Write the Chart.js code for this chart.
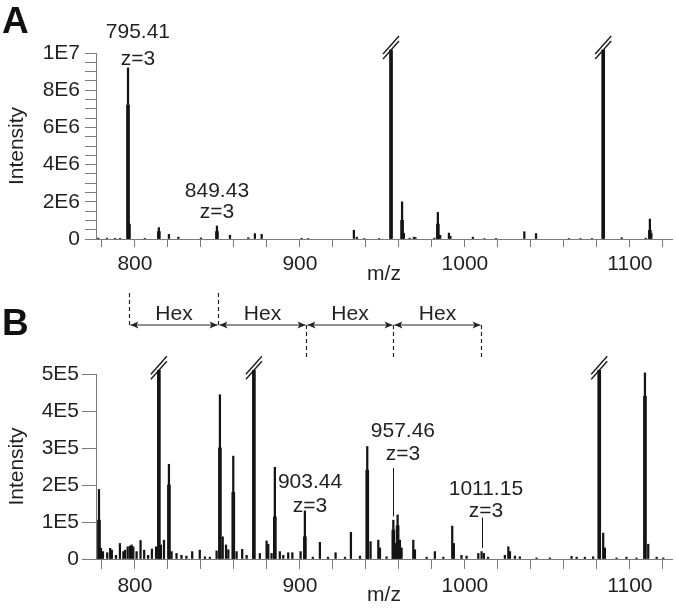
<!DOCTYPE html>
<html>
<head>
<meta charset="utf-8">
<script src="https://cdn.jsdelivr.net/npm/chart.js@4.4.1/dist/chart.umd.min.js"></script>
<style>
  body { margin: 0; background: #fff; }
  #wrap { position: relative; width: 676px; height: 610px; }
  canvas { position: absolute; left: 0; }
</style>
</head>
<body>
<div id="wrap">
  <canvas id="chartA" width="676" height="300" style="top:0"></canvas>
  <canvas id="chartB" width="676" height="330" style="top:280px"></canvas>
</div>
<script>
// ---------- panel A ----------
const mzA = [777.8, 783, 788, 791, 795.8, 796.8, 806, 814.5, 820.6, 826.3, 840, 849.7, 857.6, 868.7,
  872.7, 876.8, 901, 905, 932.7, 934.5, 939, 948, 955.2, 961.9, 963, 966.5, 969, 970, 981.5, 983.6,
  985, 990.3, 991.2, 1004.8, 1011.8, 1018.8, 1036.0, 1043.1, 1063, 1070, 1077, 1083.8, 1095, 1109.6,
  1112.1, 1113];
const intA = [5e4, 5e4, 4e4, 4e4, 9.2e6, 8e5, 4e4, 6.1e5, 2.5e5, 1e5, 6e4, 7e5, 2e5, 7e4,
  2.9e5, 2.5e5, 4e4, 3e4, 4.7e5, 1e5, 3e4, 3e4, 1.016e7, 2e6, 3e5, 5e4, 1e5, 8e4, 5e4, 1.43e6,
  2e5, 3.2e5, 1.5e5, 1e5, 3e4, 2e4, 3.9e5, 2.9e5, 3e4, 3e4, 3e4, 1.016e7, 7e4, 5e4,
  1.07e6, 3e5];
const bodyMzA = [795.8, 814.5, 849.7, 955.2, 961.9, 983.6, 1083.8, 1112.1];
const bodyIntA = [7.2e6, 4e5, 4e5, 1.016e7, 1e6, 8e5, 1.016e7, 4.7e5];
const brokenA = [955.2, 1083.8];
const yTicksA = [0, 5e5, 1e6, 1.5e6, 2e6, 2.5e6, 3e6, 3.5e6, 4e6, 4.5e6, 5e6, 5.5e6, 6e6, 6.5e6,
  7e6, 7.5e6, 8e6, 8.5e6, 9e6, 9.5e6, 1e7];
const yLabelsA = ['0', '', '', '', '2E6', '', '', '', '4E6', '', '', '', '6E6', '', '', '', '8E6',
  '', '', '', '1E7'];

// ---------- panel B ----------
const mzB = [778.2, 779.4, 780.6, 783.2, 785.0, 786.0, 788.5, 790.9, 793.0, 794.0, 795.6, 797.0,
  798.0, 799.0, 801.0, 803.4, 805.6, 808.0, 810.3, 812.8, 814.5, 815.7, 817.6, 820.6, 822.2, 825.2,
  828.2, 831.2, 834.7, 839.3, 842.4, 845.4, 849.5, 851.5, 853.2, 855.2, 856.6, 859.6, 861.6, 865.0,
  867.7, 872.1, 875.7, 879.8, 880.8, 882.8, 884.8, 887.8, 889.9, 892.9, 895.4, 900.4, 903.0, 907.8,
  912.1, 917.0, 921.6, 927.3, 930.9, 936.4, 940.8, 942.8, 947.5, 948.5, 952.5, 956.6, 957.6, 959.2,
  960.6, 961.6, 968.7, 969.7, 976.8, 981.8, 986.9, 992.3, 993.3, 997.9, 1001.0, 1008.1, 1010.1,
  1011.5, 1014.0, 1024.2, 1026.3, 1027.3, 1030.3, 1033.3, 1043.4, 1051.5, 1064.6, 1067.7, 1072.7,
  1077.7, 1081.4, 1083.8, 1084.8, 1091.9, 1097.9, 1104.0, 1109.1, 1111.1, 1116.2, 1120.2];
const intB = [1.88e5, 0.29e5, 0.2e5, 0.17e5, 0.29e5, 0.24e5, 0.1e5, 0.42e5, 0.2e5, 0.24e5, 0.33e5, 0.35e5,
  0.38e5, 0.33e5, 0.2e5, 0.5e5, 0.24e5, 0.1e5, 0.27e5, 0.33e5, 5.1e5, 0.38e5, 0.51e5, 2.56e5, 0.2e5, 0.15e5,
  0.1e5, 0.08e5, 0.2e5, 0.24e5, 0.06e5, 0.05e5, 0.22e5, 4.44e5, 0.6e5, 0.38e5, 0.25e5, 2.78e5, 0.2e5, 0.26e5,
  0.1e5, 5.1e5, 0.15e5, 0.49e5, 0.4e5, 0.15e5, 2.48e5, 0.2e5, 0.1e5, 0.17e5, 0.17e5, 0.2e5, 1.3e5, 0.05e5,
  0.45e5, 0.05e5, 0.17e5, 0.05e5, 0.72e5, 0.08e5, 3.04e5, 0.47e5, 0.51e5, 0.3e5, 0.06e5, 1.05e5, 0.42e5, 1.19e5,
  0.51e5, 0.3e5, 0.51e5, 0.25e5, 0.05e5, 0.2e5, 0.05e5, 0.89e5, 0.42e5, 0.1e5, 0.08e5, 0.15e5, 0.2e5,
  0.15e5, 0.05e5, 0.1e5, 0.33e5, 0.2e5, 0.08e5, 0.06e5, 0.03e5, 0.03e5, 0.07e5, 0.05e5, 0.05e5,
  0.06e5, 5.1e5, 0.7e5, 0.3e5, 0.03e5, 0.05e5, 0.03e5, 5.03e5, 0.4e5, 0.05e5, 0.03e5];
const bodyMzB = [778.2, 814.5, 820.6, 851.5, 859.6, 872.1, 884.8, 903.0, 940.8, 956.6, 959.2, 1081.4, 1109.1];
const bodyIntB = [1.05e5, 5.1e5, 2.0e5, 3.0e5, 1.8e5, 5.1e5, 1.14e5, 0.6e5, 2.4e5, 0.78e5, 0.9e5, 5.1e5, 4.4e5];
const brokenB = [814.5, 872.1, 1081.4];
const yTicksB = [0, 1e5, 2e5, 3e5, 4e5, 5e5];
const yLabelsB = ['0', '1E5', '2E5', '3E5', '4E5', '5E5'];
const hexMz = [796.4, 850.5, 903.6, 956.4, 1009.7];

// ---------- shared x axis ----------
const xTicks = [780, 800, 820, 840, 860, 880, 900, 920, 940, 960, 980, 1000, 1020, 1040, 1060, 1080, 1100, 1120];
const xLabels = ['', '800', '', '', '', '', '900', '', '', '', '', '1000', '', '', '', '', '1100', ''];

const FONT = "'Liberation Sans', Arial, Helvetica, sans-serif";
const INK = '#141414';
const TXT = '#231f20';
const AXIS = '#7a7a7a';
Chart.defaults.font.family = FONT;
Chart.defaults.font.size = 21;
Chart.defaults.color = TXT;

// peak labels (positions in data units)
const labelsA = [
  { lines: ['795.41', 'z=3'], mz: 801.8, at: 9.35e6, gap: 27 },
  { lines: ['849.43', 'z=3'], mz: 849.7, at: 1.13e6, gap: 21 }
];
const labelsB = [
  { lines: ['903.44', 'z=3'], mz: 906.1, at: 1.27e5, gap: 24 },
  { lines: ['957.46', 'z=3'], mz: 962.4, at: 2.68e5, gap: 23 },
  { lines: ['1011.15', 'z=3'], mz: 1012.7, at: 1.14e5, gap: 22 }
];
const leadersB = [
  { mz: 956.6, from: 2.46e5, to: 1.15e5 },
  { mz: 1010.1, from: 1.12e5, to: 0.3e5 }
];

function drawBreak(ctx, cx, cy) {
  ctx.strokeStyle = INK;
  ctx.lineWidth = 1.3;
  [-2.5, 2.5].forEach(d => {
    ctx.beginPath();
    ctx.moveTo(cx - 8, cy + 9 + d);
    ctx.lineTo(cx + 8, cy - 9 + d);
    ctx.stroke();
  });
}

function decor(letter, letterY, mz, ints, broken, labels, leaders, extra) {
  return {
    id: 'decor' + letter,
    afterDraw(chart) {
      const { ctx, scales: { x, y } } = chart;
      ctx.save();
      broken.forEach(m => {
        const i = mz.indexOf(m);
        drawBreak(ctx, x.getPixelForValue(m), y.getPixelForValue(ints[i]) - 2.5);
      });
      ctx.fillStyle = TXT;
      ctx.font = '21px ' + FONT;
      ctx.textAlign = 'center';
      ctx.textBaseline = 'alphabetic';
      labels.forEach(l => {
        const px = x.getPixelForValue(l.mz);
        const base = y.getPixelForValue(l.at);
        const n = l.lines.length;
        l.lines.forEach((t, k) => ctx.fillText(t, px, base - (n - 1 - k) * l.gap));
      });
      ctx.strokeStyle = INK;
      ctx.lineWidth = 1;
      leaders.forEach(l => {
        const px = Math.round(x.getPixelForValue(l.mz)) + 0.5;
        ctx.beginPath();
        ctx.moveTo(px, y.getPixelForValue(l.from));
        ctx.lineTo(px, y.getPixelForValue(l.to));
        ctx.stroke();
      });
      ctx.font = 'bold 37px ' + FONT;
      ctx.textAlign = 'left';
      ctx.fillStyle = '#111';
      ctx.fillText(letter, 2, letterY);
      if (extra) extra(ctx, x);
      ctx.restore();
    }
  };
}

function drawHex(ctx, x) {
  const ay = 45;
  const px = hexMz.map(m => Math.round(x.getPixelForValue(m)) + 0.5);
  ctx.strokeStyle = '#222';
  ctx.lineWidth = 1.2;
  ctx.setLineDash([4, 3]);
  px.forEach((p, i) => {
    ctx.beginPath();
    if (i < 2) { ctx.moveTo(p, 13); ctx.lineTo(p, ay); }
    else { ctx.moveTo(p, ay); ctx.lineTo(p, 77); }
    ctx.stroke();
  });
  ctx.setLineDash([]);
  ctx.lineWidth = 1;
  ctx.fillStyle = '#222';
  for (let i = 0; i < px.length - 1; i++) {
    const a = px[i] + 1, b = px[i + 1] - 1;
    ctx.beginPath();
    ctx.moveTo(a, ay); ctx.lineTo(b, ay);
    ctx.stroke();
    ctx.beginPath();
    ctx.moveTo(a, ay); ctx.lineTo(a + 8, ay - 3.5); ctx.lineTo(a + 6, ay); ctx.lineTo(a + 8, ay + 3.5);
    ctx.closePath(); ctx.fill();
    ctx.beginPath();
    ctx.moveTo(b, ay); ctx.lineTo(b - 8, ay - 3.5); ctx.lineTo(b - 6, ay); ctx.lineTo(b - 8, ay + 3.5);
    ctx.closePath(); ctx.fill();
    ctx.fillStyle = TXT;
    ctx.font = '21px ' + FONT;
    ctx.textAlign = 'center';
    ctx.fillText('Hex', (a + b) / 2, 40);
    ctx.fillStyle = '#222';
  }
}

function panel(id, p) {
  return new Chart(document.getElementById(id), {
    type: 'bar',
    data: {
      datasets: [
        {
          data: p.mz.map((m, i) => ({ x: m, y: p.ints[i] })),
          backgroundColor: INK, barThickness: 1.6, grouped: false, clip: false
        },
        {
          data: p.bodyMz.map((m, i) => ({ x: m, y: p.bodyInt[i] })),
          backgroundColor: INK, barThickness: 3, grouped: false, clip: false
        }
      ]
    },
    options: {
      responsive: false,
      animation: false,
      layout: { padding: { left: 0, right: 4, top: p.top, bottom: 0 } },
      plugins: { legend: { display: false }, tooltip: { enabled: false } },
      scales: {
        x: {
          type: 'linear', min: 776.4, max: 1125.5, offset: false,
          afterBuildTicks: s => { s.ticks = xTicks.map(v => ({ value: v })); },
          afterFit: s => { s.height = p.xH; },
          ticks: { autoSkip: false, maxRotation: 0, padding: 5, callback: (v, i) => xLabels[i] },
          grid: { drawOnChartArea: false, drawTicks: true, tickLength: p.xTick, color: AXIS, offset: false },
          border: { color: AXIS },
          title: { display: true, text: 'm/z', padding: { top: 0, bottom: p.titlePad } }
        },
        y: {
          min: 0, max: p.yMax,
          afterBuildTicks: s => { s.ticks = p.yTicks.map(v => ({ value: v })); },
          afterFit: s => { s.width = 96; },
          ticks: { autoSkip: false, padding: p.yPad, callback: (v, i) => p.yLabels[i] },
          grid: { drawOnChartArea: false, drawTicks: true, tickLength: p.yTick, color: AXIS },
          border: { color: AXIS },
          title: { display: true, text: 'Intensity', padding: { top: 5, bottom: 0 } }
        }
      }
    },
    plugins: [p.plugin]
  });
}

panel('chartA', {
  mz: mzA, ints: intA, bodyMz: bodyMzA, bodyInt: bodyIntA, yMax: 1e7,
  yTicks: yTicksA, yLabels: yLabelsA, top: 53, xH: 61, titlePad: 13, xTick: 8, yTick: 11, yPad: 5,
  plugin: decor('A', 33, mzA, intA, brokenA, labelsA, [], null)
});

panel('chartB', {
  mz: mzB, ints: intB, bodyMz: bodyMzB, bodyInt: bodyIntB, yMax: 5e5,
  yTicks: yTicksB, yLabels: yLabelsB, top: 94, xH: 51, titlePad: 2, xTick: 10, yTick: 14, yPad: 3,
  plugin: decor('B', 55, mzB, intB, brokenB, labelsB, leadersB, drawHex)
});
</script>
</body>
</html>
